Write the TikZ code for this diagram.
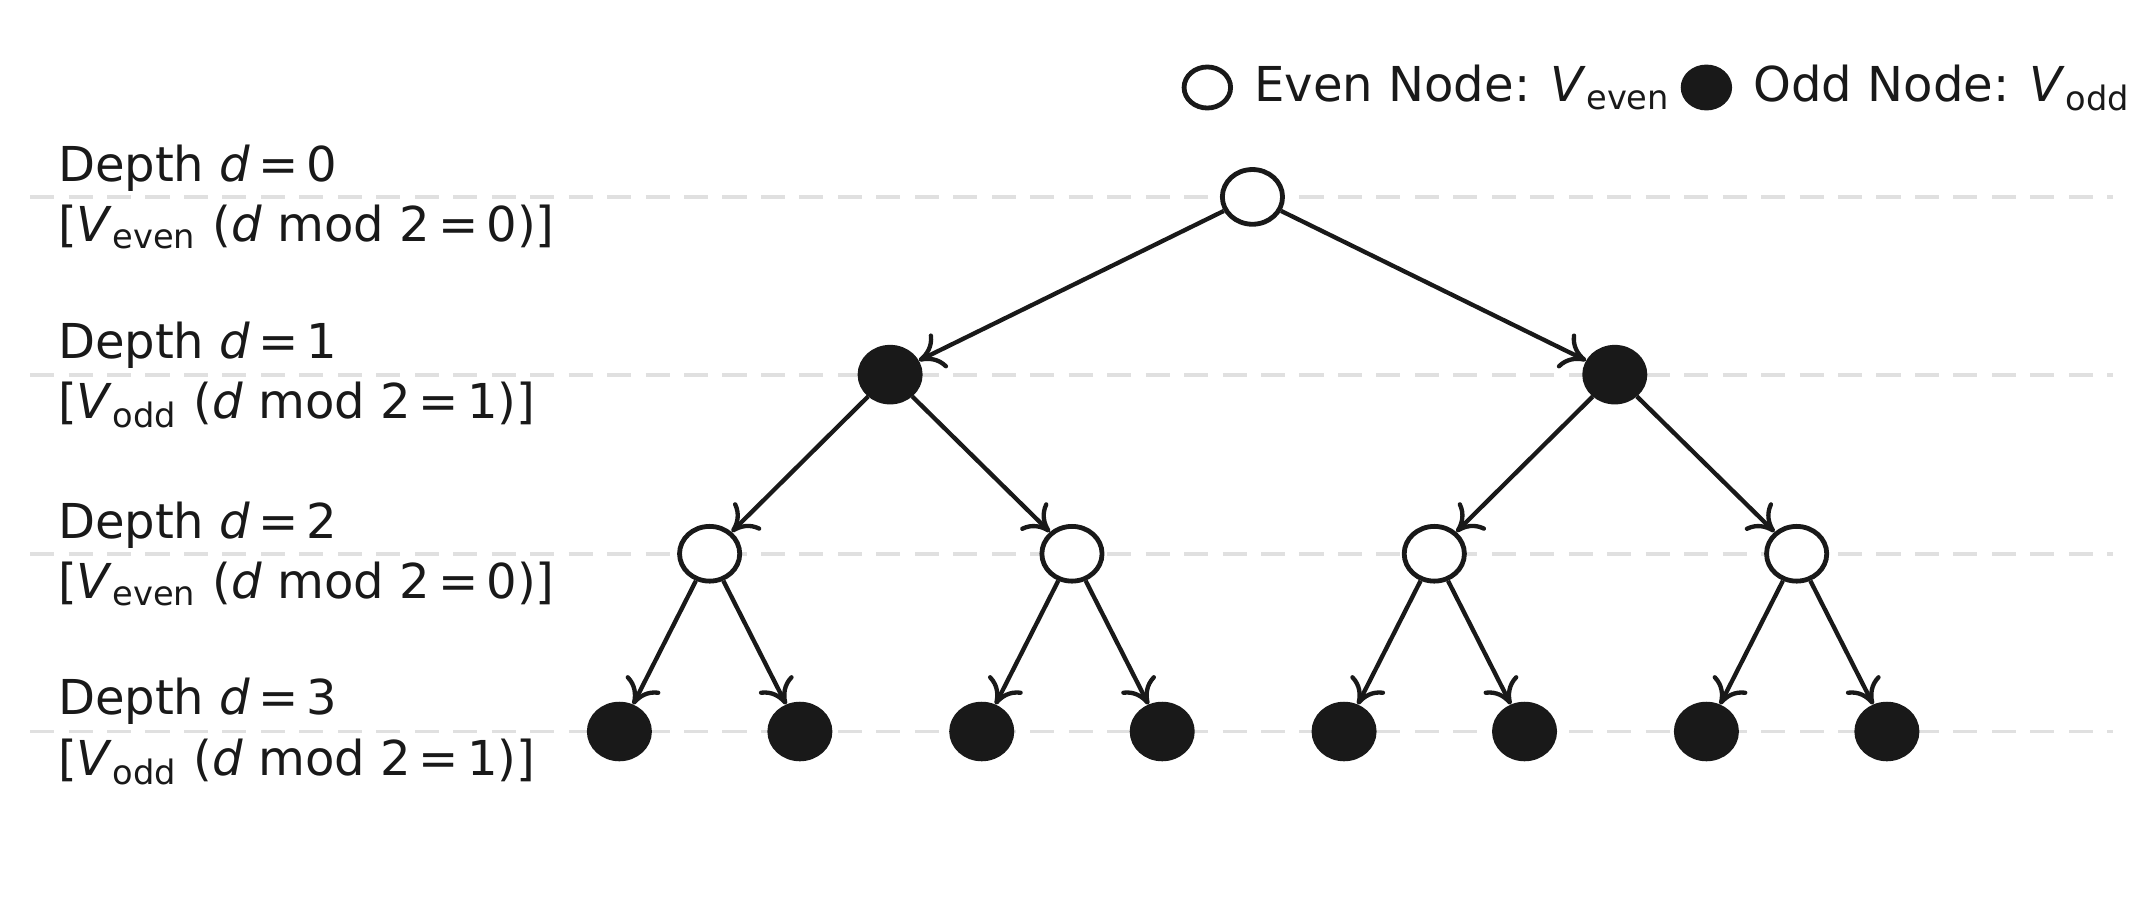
\documentclass[tikz,border=0pt]{standalone}
\usepackage{fontspec}
\setmainfont{DejaVu Sans}
\usetikzlibrary{arrows.meta,shapes.geometric}
\newcommand{\vsub}[1]{\textit{V}\textsubscript{#1}}
\tikzset{
	even/.style={ellipse, draw=black!90, line width=1pt, fill=white, minimum width=0.44cm, minimum height=0.40cm, inner sep=0pt},
	odd/.style={even, fill=black!90},
	edge/.style={draw=black!90, line width=0.9pt, -{To[length=5pt,width=8pt]}},
	level/.style={draw=black!12, line width=0.8pt, dash pattern=on 5pt off 3pt},
	depth/.style={anchor=west, align=left, font=\fontsize{10pt}{12.5pt}\selectfont, text=black!90}
}
\begin{document}
\begin{tikzpicture}[x=0.01cm, y=-0.01cm]
	\useasboundingbox (0,0) rectangle (1560,670);

	\draw[level] (22,144) -- (1545,144);
	\draw[level] (22,274) -- (1545,274);
	\draw[level] (22,405) -- (1545,405);
	\draw[level] (22,535) -- (1545,535);

	\node (t0) [depth] at (30,144) {Depth \textit{d}\,=\,0\\{}[\vsub{even} (\textit{d} mod 2\,=\,0)]};
	\node (t1) [depth] at (30,274) {Depth \textit{d}\,=\,1\\{}[\vsub{odd} (\textit{d} mod 2\,=\,1)]};
	\node (t2) [depth] at (30,405) {Depth \textit{d}\,=\,2\\{}[\vsub{even} (\textit{d} mod 2\,=\,0)]};
	\node (t3) [depth] at (30,535) {Depth \textit{d}\,=\,3\\{}[\vsub{odd} (\textit{d} mod 2\,=\,1)]};

	% legend
	\node (le) [even, minimum width=0.34cm, minimum height=0.30cm] at (883,64) {};
	\node [anchor=west, font=\fontsize{10pt}{12pt}\selectfont, text=black!90] at (905,64) {Even Node: \vsub{even}};
	\node (lo) [odd, minimum width=0.34cm, minimum height=0.30cm] at (1248,64) {};
	\node [anchor=west, font=\fontsize{10pt}{12pt}\selectfont, text=black!90] at (1270,64) {Odd Node: \vsub{odd}};

	% tree
	\node (n) [even] at (916,144) {};
	\node (n0) [odd] at (651,274) {};
	\node (n1) [odd] at (1181,274) {};
	\node (n00) [even] at (519,405) {};
	\node (n01) [even] at (784,405) {};
	\node (n10) [even] at (1049,405) {};
	\node (n11) [even] at (1314,405) {};
	\node (n000) [odd] at (453,535) {};
	\node (n001) [odd] at (585,535) {};
	\node (n010) [odd] at (718,535) {};
	\node (n011) [odd] at (850,535) {};
	\node (n100) [odd] at (983,535) {};
	\node (n101) [odd] at (1115,535) {};
	\node (n110) [odd] at (1248,535) {};
	\node (n111) [odd] at (1380,535) {};

	\draw[edge] (n) -- (n0);
	\draw[edge] (n) -- (n1);
	\draw[edge] (n0) -- (n00);
	\draw[edge] (n0) -- (n01);
	\draw[edge] (n1) -- (n10);
	\draw[edge] (n1) -- (n11);
	\draw[edge] (n00) -- (n000);
	\draw[edge] (n00) -- (n001);
	\draw[edge] (n01) -- (n010);
	\draw[edge] (n01) -- (n011);
	\draw[edge] (n10) -- (n100);
	\draw[edge] (n10) -- (n101);
	\draw[edge] (n11) -- (n110);
	\draw[edge] (n11) -- (n111);
\end{tikzpicture}
\end{document}
